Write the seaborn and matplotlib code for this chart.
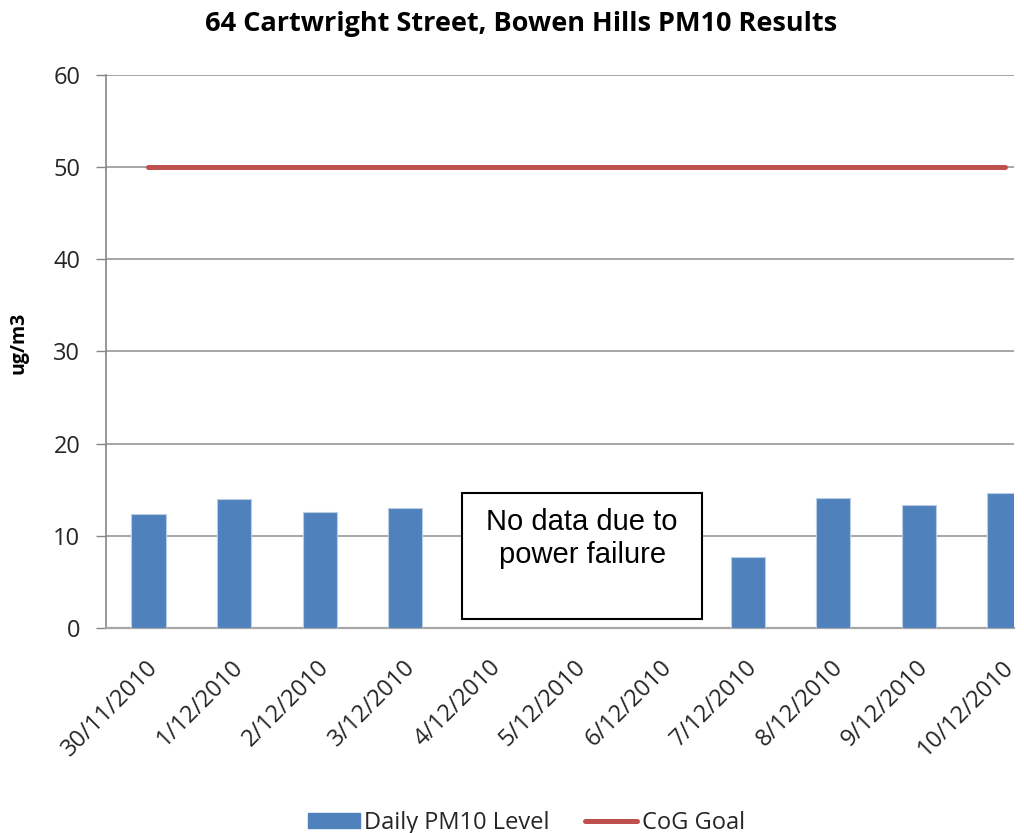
import numpy as np
import pandas as pd
import matplotlib
matplotlib.use("Agg")
import matplotlib.pyplot as plt
import matplotlib.transforms as mtransforms
from matplotlib.patches import Patch, Rectangle
from matplotlib.lines import Line2D
import seaborn as sns

# Daily PM10 readings (ug/m3); NaN = no reading (power failure)
dates = ["30/11/2010", "1/12/2010", "2/12/2010", "3/12/2010", "4/12/2010",
         "5/12/2010", "6/12/2010", "7/12/2010", "8/12/2010", "9/12/2010",
         "10/12/2010"]
pm10 = [12.4, 14.0, 12.6, 13.0, np.nan, np.nan, np.nan, 7.7, 14.1, 13.3, 14.6]
goal = [50] * len(dates)
y_ticks = [0, 10, 20, 30, 40, 50, 60]

title = "64 Cartwright Street, Bowen Hills PM10 Results"
note = "No data due to\npower failure"

df = pd.DataFrame({"date": dates, "pm10": pm10, "goal": goal})

sns.set_theme(style="white")
plt.rcParams["font.family"] = ["Open Sans", "DejaVu Sans"]

BAR = "#4F81BD"
RED = "#C0504D"
GRID = "#A6A6A6"
AXIS = "#868686"
TEXT = "#262626"

fig = plt.figure(figsize=(10.24, 8.33), dpi=100)
ax = fig.add_axes([0.1032, 0.2461, 0.8870, 0.6639])

sns.barplot(data=df, x="date", y="pm10", order=dates, color=BAR,
            saturation=1, width=0.4, edgecolor="#B9CDE5", linewidth=0.8,
            ax=ax, zorder=3)
sns.lineplot(x=np.arange(len(dates)), y=df["goal"], color=RED, linewidth=3.6,
             ax=ax, zorder=4, solid_capstyle="round")

ax.set_ylim(0, 60)
ax.set_xlim(-0.5, 10.11)
ax.set_yticks(y_ticks)
ax.yaxis.grid(True, color=GRID, linewidth=1.4, zorder=0)
ax.set_axisbelow(True)

for side in ("top", "right"):
    ax.spines[side].set_visible(False)
ax.spines["left"].set_color(AXIS)
ax.spines["left"].set_linewidth(1.2)
ax.spines["bottom"].set_color(GRID)
ax.spines["bottom"].set_linewidth(1.6)

ax.tick_params(axis="y", which="major", left=True, length=7.2, width=1.0,
               color=AXIS, pad=11, labelsize=17, labelcolor=TEXT)
ax.tick_params(axis="x", which="major", bottom=False, length=0, pad=26,
               labelsize=17, labelcolor=TEXT)
ax.set_xticks(np.arange(len(dates)))
ax.set_xticklabels(dates, rotation=45, ha="right", va="center",
                   rotation_mode="anchor")
shift = mtransforms.ScaledTranslation(6 / 100, 0, fig.dpi_scale_trans)
for lbl in ax.get_xticklabels():
    lbl.set_transform(lbl.get_transform() + shift)

ax.set_xlabel("")
ax.set_ylabel("ug/m3", fontsize=14, fontweight="bold", color="#000000")
ax.yaxis.set_label_coords(-0.085, 0.515)

fig.text(0.509, 0.971, title, ha="center", va="center", fontsize=19.5,
         fontweight="bold", color="#000000")

# Note box spanning the missing days
ax.add_patch(Rectangle((3.66, 0.94), 2.81, 13.76, facecolor="white",
                       edgecolor="#000000", linewidth=1.5, zorder=5))
ax.text(5.065, 13.0, note, ha="center", va="top", fontsize=21,
        family=["Liberation Sans", "DejaVu Sans"], color="#000000",
        linespacing=1.22, zorder=6)

handles = [Patch(facecolor=BAR, edgecolor=BAR),
           Line2D([0], [0], color=RED, linewidth=3.6)]
fig.legend(handles, ["Daily PM10 Level", "CoG Goal"], loc="center",
           bbox_to_anchor=(0.514, 0.012), ncol=2, frameon=False,
           fontsize=17, handlelength=2.2, handleheight=0.6,
           handletextpad=0.2, columnspacing=1.5, labelcolor=TEXT,
           borderpad=0)

fig.savefig("out.png", dpi=100, facecolor="white")
